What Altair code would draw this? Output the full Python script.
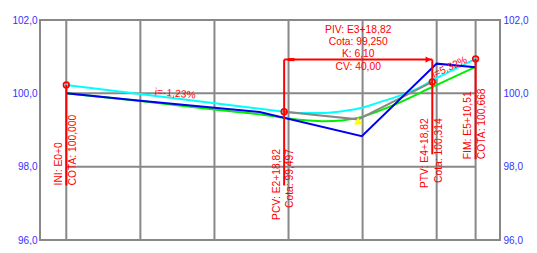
import altair as alt
import pandas as pd

# ---------------- data ----------------
# stakes (stations in m) and grid levels (elevation in m)
grid_stations = [0, 20, 40, 60, 80, 100, 110.51]
grid_levels = [98, 100]
axis_levels = [96, 98, 100, 102]

# natural ground (blue)
blue_st = [0, 20, 40, 52.2, 79.8, 100.0, 110.51]
blue_el = [100.0, 99.80, 99.61, 99.49, 98.83, 100.81, 100.71]

# second ground line (green)
green_st = [0, 20, 40, 56.6, 61.0, 65.4, 69.8, 74.3, 78.7, 83.1, 89.3, 98.6, 110.51]
green_el = [100.0, 99.79, 99.56, 99.37, 99.30, 99.26, 99.24, 99.26, 99.33, 99.47, 99.72, 100.16, 100.72]

# design profile (cyan): straight tangents + vertical curve
cyan_tan_st = [0, 58.82, 98.82, 110.51]
cyan_tan_el = [100.23, 99.497, 100.36, 100.94]
cyan_tan_seg = ["a", "a", "b", "b"]
cyan_curve_st = [58.82, 64.0, 69.3, 74.6, 79.9, 85.2, 90.5, 95.8, 98.82]
cyan_curve_el = [99.497, 99.462, 99.465, 99.515, 99.608, 99.78, 99.95, 100.18, 100.36]

# tangent polygon (grey)
grey_st = [58.82, 78.82, 98.82]
grey_el = [99.497, 99.29, 100.314]

# key points (red circles)
key_st = [0, 58.82, 98.82, 110.51]
key_el = [100.23, 99.497, 100.314, 100.94]

# PIV (yellow triangle)
piv_st = [78.82]
piv_el = [99.25]

# red leader lines
lead_st = [0, 58.82, 98.82, 110.51]
lead_top = [100.23, 100.92, 100.92, 100.94]
lead_bot = [97.487, 97.487, 98.336, 98.204]

# CV bracket
cv_from = [58.82]
cv_to = [98.82]
cv_el = [100.92]

# vertical labels
lab_st = [0, 58.82, 98.82, 110.51]
lab_anchor = [97.487, 98.482, 99.319, 98.204]
lab_group = ["start", "end", "end", "start"]
lab_left = ["INI: E0+0", "PCV: E2+18,82", "PTV: E4+18,82", "FIM: E5+10,51"]
lab_right = ["COTA: 100,000", "Cota: 99,497", "Cota: 100,314", "COTA: 100,668"]

# PIV text block
piv_lines = ["PIV: E3+18,82", "Cota: 99,250", "K: 6,10", "CV: 40,00"]
piv_block_el = [101.74]

# grade labels
g1_text = ["i=-1,23%"]
g1_st = [29.4]
g1_el = [99.99]
g2_text = ["i=5,32%"]
g2_st = [103.5]
g2_el = [100.71]

# ---------------- chart ----------------
RED = "#ff0000"
GREY = "#888888"
FONT = "Liberation Sans"
FS = 10.3

xs = alt.Scale(domain=[-7.1, 117.1], nice=False, zero=False)
ys = alt.Scale(domain=[96, 102], nice=False, zero=False)
lab_expr = "replace(format(datum.value, '.1f'), '.', ',')"

def yaxis(orient):
    return alt.Axis(orient=orient, values=axis_levels, labelExpr=lab_expr,
                    ticks=False, domain=False, grid=False, title=None,
                    labelColor="#3333ff", labelFont=FONT, labelFontSize=10,
                    labelPadding=3, labelFlush=False, labelOverlap=False)

X = lambda f: alt.X(f, type="quantitative", scale=xs, axis=None)
Y = lambda f, ax=None: alt.Y(f, type="quantitative", scale=ys, axis=ax)

vgrid_df = pd.DataFrame({"st": grid_stations, "lo": axis_levels[0], "hi": axis_levels[-1]})
vgrid = alt.Chart(vgrid_df).mark_rule(color=GREY, strokeWidth=2).encode(
    x=X("st"), y=Y("lo", yaxis("left")), y2="hi")

hgrid_df = pd.DataFrame({"el": grid_levels, "s0": grid_stations[0], "s1": grid_stations[-1]})
hgrid = alt.Chart(hgrid_df).mark_rule(color=GREY, strokeWidth=2).encode(
    y=Y("el", yaxis("right")), x=X("s0"), x2="s1")

cyan_tan = alt.Chart(pd.DataFrame({"st": cyan_tan_st, "el": cyan_tan_el, "seg": cyan_tan_seg})).mark_line(
    color="#00ffff", strokeWidth=2).encode(x=X("st"), y=Y("el"), detail="seg")
cyan_curve = alt.Chart(pd.DataFrame({"st": cyan_curve_st, "el": cyan_curve_el})).mark_line(
    color="#00ffff", strokeWidth=2, interpolate="monotone").encode(x=X("st"), y=Y("el"))

green = alt.Chart(pd.DataFrame({"st": green_st, "el": green_el})).mark_line(
    color="#00ee00", strokeWidth=2, interpolate="monotone").encode(x=X("st"), y=Y("el"))

grey = alt.Chart(pd.DataFrame({"st": grey_st, "el": grey_el})).mark_line(
    color=GREY, strokeWidth=2).encode(x=X("st"), y=Y("el"))

blue = alt.Chart(pd.DataFrame({"st": blue_st, "el": blue_el})).mark_line(
    color="#0000ee", strokeWidth=2).encode(x=X("st"), y=Y("el"))

leads = alt.Chart(pd.DataFrame({"st": lead_st, "top": lead_top, "bot": lead_bot})).mark_rule(
    color=RED, strokeWidth=2).encode(x=X("st"), y=Y("top"), y2="bot")

cv_df = pd.DataFrame({"s0": cv_from, "s1": cv_to, "el": cv_el})
cv_line = alt.Chart(cv_df).mark_rule(color=RED, strokeWidth=2).encode(
    x=X("s0"), x2="s1", y=Y("el"))
cv_arrow = alt.Chart(cv_df).mark_point(shape="triangle-right", filled=True, color=RED,
                                       size=40, opacity=1, xOffset=-4).encode(x=X("s1"), y=Y("el"))
cv_tail = alt.Chart(cv_df).mark_point(shape="M-1.3,-0.6L1.3,-0.6L1.3,0.6L-1.3,0.6Z", filled=True,
                                      color=RED, size=26, opacity=1, xOffset=7).encode(x=X("s0"), y=Y("el"))

circles = alt.Chart(pd.DataFrame({"st": key_st, "el": key_el})).mark_point(
    shape="circle", filled=False, color=RED, strokeWidth=1.7, size=32, opacity=1).encode(x=X("st"), y=Y("el"))

tri = alt.Chart(pd.DataFrame({"st": piv_st, "el": piv_el})).mark_point(
    shape="triangle-up", filled=True, color="#ffff00", size=70, opacity=1).encode(x=X("st"), y=Y("el"))

lab_df = pd.DataFrame({"st": lab_st, "el": lab_anchor, "grp": lab_group,
                       "left": lab_left, "right": lab_right})
vlabels = []
for grp, align in [("start", "left"), ("end", "right")]:
    for field, dy in [("left", -7.5), ("right", 6.3)]:
        vlabels.append(
            alt.Chart(lab_df).transform_filter(alt.datum.grp == grp).mark_text(
                angle=270, align=align, baseline="middle", dy=dy, color=RED,
                font=FONT, fontSize=FS).encode(x=X("st"), y=Y("el"), text=alt.Text(field + ":N")))

piv_df = pd.DataFrame({"st": piv_st, "el": piv_block_el, "txt": [piv_lines]})
piv_text = alt.Chart(piv_df).mark_text(
    align="center", baseline="middle", lineHeight=12.4, color=RED, font=FONT, fontSize=FS
).encode(x=X("st"), y=Y("el"), text="txt")

g1 = alt.Chart(pd.DataFrame({"st": g1_st, "el": g1_el, "t": g1_text})).mark_text(
    angle=5, align="center", baseline="middle", color=RED, font=FONT, fontSize=FS
).encode(x=X("st"), y=Y("el"), text="t:N")
g2 = alt.Chart(pd.DataFrame({"st": g2_st, "el": g2_el, "t": g2_text})).mark_text(
    angle=335, align="center", baseline="middle", color=RED, font=FONT, fontSize=FS
).encode(x=X("st"), y=Y("el"), text="t:N")

chart = alt.layer(
    vgrid, hgrid, cyan_tan, cyan_curve, green, grey, blue,
    leads, cv_line, cv_arrow, cv_tail, circles, tri,
    *vlabels, piv_text, g1, g2
).resolve_axis(y="independent").properties(
    width=460, height=220,
    autosize=alt.AutoSizeParams(type="none"),
    padding={"left": 32, "top": 12, "right": 29, "bottom": 5},
).configure_view(stroke=GREY, strokeWidth=2)

chart.save("out.html", embed_options={"renderer": "svg", "actions": False})
